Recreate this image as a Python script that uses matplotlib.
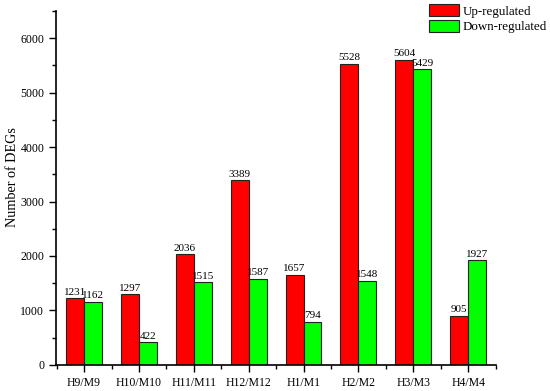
import numpy as np
import matplotlib
matplotlib.use("Agg")
import matplotlib.pyplot as plt
from matplotlib.ticker import MultipleLocator, FixedLocator

plt.rcParams['font.family'] = ['Liberation Serif', 'DejaVu Serif']

groups = ["H9/M9", "H10/M10", "H11/M11", "H12/M12", "H1/M1", "H2/M2", "H3/M3", "H4/M4"]
up = [1231, 1297, 2036, 3389, 1657, 5528, 5604, 905]
down = [1162, 422, 1515, 1587, 794, 1548, 5429, 1927]

fig = plt.figure(figsize=(5.5, 3.91), dpi=100)
ax = fig.add_axes([0.102, 0.0665, 0.8, 0.906])

x = np.arange(len(groups))
w = 0.327
b1 = ax.bar(x - w/2, up, w, color="#ff0000", edgecolor="#222222", linewidth=0.8, label="Up-regulated")
b2 = ax.bar(x + w/2, down, w, color="#00ff00", edgecolor="#222222", linewidth=0.8, label="Down-regulated")

for rect, v in zip(list(b1) + list(b2), up + down):
  ax.text(rect.get_x() + rect.get_width()/2, v + 25, str(v), ha="center", va="bottom", fontsize=8.0)

ax.set_xlim(-0.51, 7.51)
ax.set_ylim(0, 6500)
ax.set_xticks(x)
ax.set_xticklabels(groups, fontsize=8.5)
ax.xaxis.set_minor_locator(FixedLocator(np.arange(-0.5, 8, 1)))
ax.yaxis.set_major_locator(MultipleLocator(1000))
ax.yaxis.set_minor_locator(MultipleLocator(500))
ax.tick_params(axis="y", labelsize=8.5, length=5, width=1)
ax.tick_params(axis="x", length=5, width=1)
ax.tick_params(which="minor", length=3, width=1)
ax.set_ylabel("Number of DEGs", fontsize=10.2)
ax.yaxis.set_label_coords(-0.085, 0.53)

ax.spines["top"].set_visible(False)
ax.spines["right"].set_visible(False)
ax.spines["left"].set_linewidth(1.2)
ax.spines["bottom"].set_linewidth(1.2)

ax.legend(loc="upper right", bbox_to_anchor=(0.995, 0.99), bbox_transform=fig.transFigure,
          frameon=False, fontsize=9.4,
          handlelength=2.3, handleheight=1.1, handletextpad=0.3, labelspacing=0.15,
          borderaxespad=0, borderpad=0)

fig.savefig("out.png", dpi=100)
